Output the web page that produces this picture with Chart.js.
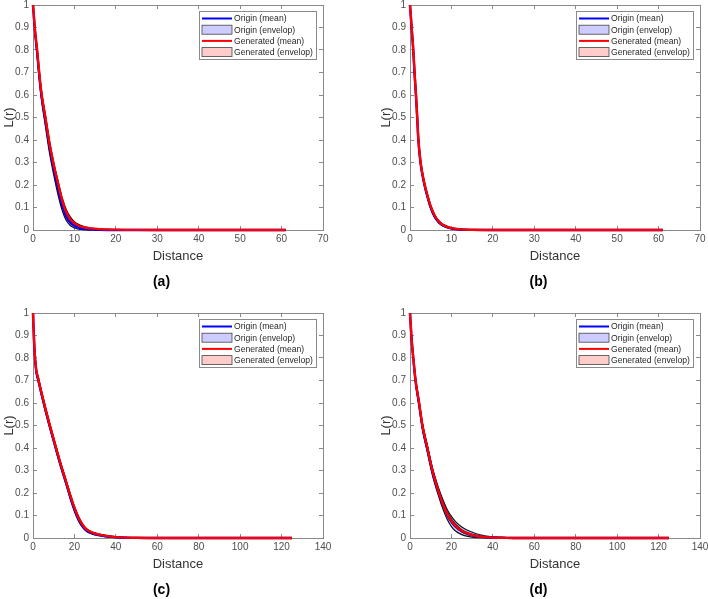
<!DOCTYPE html>
<html lang="en">
<head>
  <meta charset="UTF-8">
  <title>L(r) - Origin vs Generated</title>
  <style>
    html, body {
      margin: 0;
      padding: 0;
      background: #fff;
    }
    #wrap {
      position: relative;
      width: 708px;
      height: 599px;
      overflow: hidden;
    }
    #wrap canvas {
      position: absolute;
    }
  </style>
</head>
<body>

  <div id="wrap">
    <canvas id="chartA" width="354" height="300" style="left:0;top:0"></canvas>
    <canvas id="chartB" width="354" height="300" style="left:377px;top:0"></canvas>
    <canvas id="chartC" width="354" height="300" style="left:0;top:308px"></canvas>
    <canvas id="chartD" width="354" height="300" style="left:377px;top:308px"></canvas>
  </div>

  <script src="https://cdn.jsdelivr.net/npm/chart.js"></script>

  <script>
    // panel (a)
    const aDist        = [0, 0.5, 1, 1.5, 2, 3, 4, 5, 6, 7, 8, 9, 10, 11, 12, 14, 16, 20, 25, 30, 40, 50, 61];
    const aOriginMean  = [1, 0.88, 0.79, 0.69, 0.605, 0.49, 0.37, 0.275, 0.19, 0.115, 0.062, 0.034, 0.019, 0.011, 0.006, 0.003, 0.001, 0, 0, 0, 0, 0, 0];
    const aOriginLow   = [1, 0.87, 0.77, 0.67, 0.585, 0.46, 0.34, 0.245, 0.16, 0.09, 0.043, 0.02, 0.009, 0.004, 0.002, 0, 0, 0, 0, 0, 0, 0, 0];
    const aOriginHigh  = [1, 0.885, 0.8, 0.7, 0.612, 0.5, 0.382, 0.288, 0.203, 0.13, 0.076, 0.045, 0.028, 0.018, 0.011, 0.005, 0.002, 0.0005, 0, 0, 0, 0, 0];
    const aGenMean     = [1, 0.885, 0.8, 0.7, 0.615, 0.5, 0.383, 0.29, 0.21, 0.135, 0.08, 0.048, 0.03, 0.02, 0.013, 0.007, 0.004, 0.0015, 0.0005, 0, 0, 0, 0];
    const aGenLow      = [1, 0.875, 0.78, 0.68, 0.595, 0.475, 0.355, 0.26, 0.175, 0.105, 0.056, 0.03, 0.017, 0.01, 0.006, 0.002, 0.001, 0, 0, 0, 0, 0, 0];
    const aGenHigh     = [1, 0.89, 0.805, 0.71, 0.625, 0.51, 0.395, 0.302, 0.222, 0.147, 0.092, 0.058, 0.037, 0.025, 0.017, 0.009, 0.005, 0.002, 0.0007, 0, 0, 0, 0];

    // panel (b)
    const bDist        = [0, 0.4, 0.8, 1.1, 1.45, 1.75, 2, 2.5, 3, 3.5, 4, 5, 6, 7, 8, 10, 12, 15, 20, 30, 40, 50, 61];
    const bOriginMean  = [1, 0.895, 0.795, 0.695, 0.595, 0.495, 0.405, 0.305, 0.245, 0.2, 0.163, 0.1, 0.058, 0.034, 0.02, 0.007, 0.002, 0.0005, 0, 0, 0, 0, 0];
    const bOriginLow   = [1, 0.888, 0.787, 0.686, 0.586, 0.487, 0.397, 0.297, 0.238, 0.193, 0.156, 0.094, 0.053, 0.03, 0.017, 0.005, 0.001, 0, 0, 0, 0, 0, 0];
    const bOriginHigh  = [1, 0.902, 0.803, 0.704, 0.604, 0.503, 0.413, 0.313, 0.252, 0.207, 0.17, 0.106, 0.063, 0.038, 0.023, 0.009, 0.003, 0.001, 0, 0, 0, 0, 0];
    const bGenMean     = [1, 0.9, 0.8, 0.7, 0.6, 0.5, 0.41, 0.31, 0.25, 0.205, 0.168, 0.105, 0.062, 0.037, 0.022, 0.008, 0.003, 0.001, 0, 0, 0, 0, 0];
    const bGenLow      = [1, 0.893, 0.792, 0.692, 0.592, 0.492, 0.402, 0.302, 0.243, 0.198, 0.161, 0.099, 0.057, 0.033, 0.019, 0.006, 0.002, 0.0005, 0, 0, 0, 0, 0];
    const bGenHigh     = [1, 0.906, 0.807, 0.708, 0.608, 0.508, 0.418, 0.318, 0.257, 0.212, 0.175, 0.111, 0.067, 0.041, 0.025, 0.01, 0.004, 0.0015, 0, 0, 0, 0, 0];

    // panel (c)
    const cDist        = [0, 0.5, 1, 1.6, 2.5, 4, 6, 8, 11, 13, 16, 18, 20, 22, 24, 26, 29, 32, 35, 38, 42, 50, 60, 80, 100, 125];
    const cOriginMean  = [1, 0.875, 0.795, 0.74, 0.705, 0.645, 0.57, 0.5, 0.4, 0.335, 0.245, 0.183, 0.127, 0.083, 0.052, 0.033, 0.02, 0.013, 0.008, 0.005, 0.002, 0.0005, 0, 0, 0, 0];
    const cOriginLow   = [1, 0.865, 0.785, 0.73, 0.695, 0.635, 0.56, 0.49, 0.39, 0.325, 0.235, 0.173, 0.118, 0.075, 0.046, 0.028, 0.016, 0.01, 0.006, 0.003, 0.001, 0, 0, 0, 0, 0];
    const cOriginHigh  = [1, 0.885, 0.805, 0.75, 0.715, 0.655, 0.58, 0.51, 0.41, 0.345, 0.255, 0.193, 0.137, 0.092, 0.059, 0.038, 0.024, 0.016, 0.011, 0.007, 0.004, 0.0015, 0, 0, 0, 0];
    const cGenMean     = [1, 0.88, 0.8, 0.745, 0.71, 0.65, 0.575, 0.505, 0.405, 0.34, 0.25, 0.19, 0.135, 0.09, 0.058, 0.037, 0.023, 0.015, 0.01, 0.006, 0.003, 0.001, 0, 0, 0, 0];
    const cGenLow      = [1, 0.875, 0.795, 0.74, 0.705, 0.645, 0.57, 0.5, 0.4, 0.335, 0.245, 0.185, 0.13, 0.086, 0.055, 0.035, 0.021, 0.013, 0.009, 0.005, 0.002, 0.0005, 0, 0, 0, 0];
    const cGenHigh     = [1, 0.886, 0.806, 0.751, 0.716, 0.656, 0.581, 0.511, 0.411, 0.346, 0.256, 0.196, 0.141, 0.095, 0.062, 0.04, 0.025, 0.017, 0.012, 0.007, 0.004, 0.0015, 0, 0, 0, 0];

    // panel (d)
    const dDist        = [0, 0.65, 1.6, 2.7, 4.4, 6, 8.4, 10.8, 14, 16, 18, 20, 22, 25, 28, 32, 36, 40, 45, 50, 60, 80, 100, 125];
    const dOriginMean  = [1, 0.898, 0.797, 0.696, 0.595, 0.495, 0.395, 0.296, 0.198, 0.146, 0.104, 0.074, 0.052, 0.031, 0.018, 0.008, 0.004, 0.002, 0.001, 0, 0, 0, 0, 0];
    const dOriginLow   = [1, 0.893, 0.79, 0.687, 0.584, 0.482, 0.38, 0.28, 0.18, 0.126, 0.082, 0.051, 0.031, 0.015, 0.007, 0.002, 0.001, 0, 0, 0, 0, 0, 0, 0];
    const dOriginHigh  = [1, 0.904, 0.806, 0.707, 0.608, 0.509, 0.41, 0.313, 0.217, 0.168, 0.126, 0.096, 0.073, 0.049, 0.033, 0.019, 0.01, 0.005, 0.002, 0, 0, 0, 0, 0];
    const dGenMean     = [1, 0.9, 0.8, 0.7, 0.6, 0.5, 0.4, 0.3, 0.2, 0.148, 0.106, 0.076, 0.054, 0.032, 0.019, 0.009, 0.004, 0.002, 0.001, 0, 0, 0, 0, 0];
    const dGenLow      = [1, 0.896, 0.794, 0.692, 0.591, 0.49, 0.389, 0.289, 0.19, 0.139, 0.097, 0.068, 0.047, 0.027, 0.015, 0.006, 0.002, 0.001, 0, 0, 0, 0, 0, 0];
    const dGenHigh     = [1, 0.904, 0.805, 0.707, 0.608, 0.509, 0.41, 0.311, 0.21, 0.157, 0.115, 0.084, 0.061, 0.037, 0.023, 0.012, 0.006, 0.003, 0.0015, 0, 0, 0, 0, 0];

    const FONT = "'Liberation Sans', Arial, sans-serif";
    const AXIS_GRAY = '#8a8a8a';
    const TICK_TEXT = '#4d4d4d';

    Chart.defaults.font.family = FONT;

    // MATLAB-like legend: framed box in the upper right of the plot area
    const boxLegend = {
      id: 'boxLegend',
      afterDraw(chart) {
        const { ctx, chartArea } = chart;
        const items = chart.data.datasets
          .filter(d => d.legendKind)
          .sort((p, q) => p.legendRank - q.legendRank);
        const w = 117, h = 48;
        const left = chartArea.right - 7 - w;
        const top = chartArea.top + 6;

        ctx.save();
        ctx.fillStyle = '#fff';
        ctx.fillRect(left, top, w, h);
        ctx.strokeStyle = '#8a8a8a';
        ctx.lineWidth = 1;
        ctx.strokeRect(left + 0.5, top + 0.5, w, h);

        ctx.font = '8.6px ' + FONT;
        ctx.textBaseline = 'middle';
        ctx.textAlign = 'left';
        items.forEach((d, i) => {
          const y = top + 7.5 + i * 11.2;
          if (d.legendKind === 'line') {
            ctx.strokeStyle = d.borderColor;
            ctx.lineWidth = 2;
            ctx.beginPath();
            ctx.moveTo(left + 3, y);
            ctx.lineTo(left + 33, y);
            ctx.stroke();
          } else {
            ctx.fillStyle = d.backgroundColor;
            ctx.fillRect(left + 3, y - 4.5, 30, 9);
            ctx.strokeStyle = '#444';
            ctx.lineWidth = 0.8;
            ctx.strokeRect(left + 3, y - 4.5, 30, 9);
          }
          ctx.fillStyle = '#262626';
          ctx.fillText(d.label, left + 35, y + 0.5);
        });
        ctx.restore();
      }
    };

    function panelDatasets(dist, oMean, oLow, oHigh, gMean, gLow, gHigh) {
      const pts = v => dist.map((x, i) => ({ x: x, y: v[i] }));
      const edge = { borderColor: '#111', borderWidth: 1.2 };
      // first dataset is painted last (on top)
      return [
        { label: 'Generated (mean)', data: pts(gMean), borderColor: '#ff0000', borderWidth: 2.4,
          legendKind: 'line', legendRank: 2 },
        { label: 'Origin (mean)', data: pts(oMean), borderColor: '#0000ff', borderWidth: 2.4,
          legendKind: 'line', legendRank: 0 },
        { label: 'Generated (envelop)', data: pts(gHigh), ...edge, fill: 3,
          backgroundColor: 'rgba(255,0,0,0.2)', legendKind: 'box', legendRank: 3 },
        { label: '', data: pts(gLow), ...edge, fill: false },
        { label: 'Origin (envelop)', data: pts(oHigh), ...edge, fill: 5,
          backgroundColor: 'rgba(0,0,255,0.2)', legendKind: 'box', legendRank: 1 },
        { label: '', data: pts(oLow), ...edge, fill: false }
      ];
    }

    function makeScales(xMax, xStep) {
      const tickFont = { size: 10, family: FONT, lineHeight: 1 };
      const grid = { drawOnChartArea: false, tickLength: -4, color: AXIS_GRAY };
      const border = { color: AXIS_GRAY, width: 1 };
      return {
        x: {
          type: 'linear', position: 'bottom', min: 0, max: xMax,
          ticks: { stepSize: xStep, color: TICK_TEXT, font: tickFont, padding: 8, maxRotation: 0, autoSkip: false },
          grid: grid, border: border,
          title: { display: true, text: 'Distance', color: '#333', font: { size: 13, family: FONT },
                   padding: { top: 0, bottom: 9 } },
          afterFit: s => { s.height = 43.6; }
        },
        x2: {
          type: 'linear', position: 'top', min: 0, max: xMax,
          ticks: { stepSize: xStep, display: false },
          grid: grid, border: border,
          afterFit: s => { s.height = 0; }
        },
        y: {
          type: 'linear', position: 'left', min: 0, max: 1,
          ticks: {
            stepSize: 0.1, color: TICK_TEXT, font: tickFont, padding: 8,
            callback: v => String(Number(v.toFixed(2)))
          },
          grid: grid, border: border,
          title: { display: true, text: 'L(r)', color: '#333', font: { size: 13, family: FONT },
                   padding: { top: 2, bottom: 0 } },
          afterFit: s => { s.width = 33; s.paddingTop = 0; s.paddingBottom = 0; }
        },
        y2: {
          type: 'linear', position: 'right', min: 0, max: 1,
          ticks: { stepSize: 0.1, display: false },
          grid: grid, border: border,
          afterFit: s => { s.width = 0; }
        }
      };
    }

    function drawPanel(id, tag, xMax, xStep, datasets) {
      const ctx = document.getElementById(id).getContext('2d');
      return new Chart(ctx, {
        type: 'line',
        data: { datasets: datasets },
        options: {
          responsive: false,
          animation: false,
          clip: 3,
          layout: { padding: { left: 0, right: 31, top: 5, bottom: 0 } },
          elements: {
            point: { radius: 0 },
            line: { cubicInterpolationMode: 'monotone' }
          },
          scales: makeScales(xMax, xStep),
          plugins: {
            legend: { display: false },
            tooltip: { enabled: false },
            title: {
              display: true, position: 'bottom', text: tag, color: '#000',
              font: { size: 14, weight: 'bold', family: FONT },
              padding: { top: 0, bottom: 9.6 }
            }
          }
        },
        plugins: [boxLegend]
      });
    }

    drawPanel('chartA', '(a)', 70, 10,
      panelDatasets(aDist, aOriginMean, aOriginLow, aOriginHigh, aGenMean, aGenLow, aGenHigh));
    drawPanel('chartB', '(b)', 70, 10,
      panelDatasets(bDist, bOriginMean, bOriginLow, bOriginHigh, bGenMean, bGenLow, bGenHigh));
    drawPanel('chartC', '(c)', 140, 20,
      panelDatasets(cDist, cOriginMean, cOriginLow, cOriginHigh, cGenMean, cGenLow, cGenHigh));
    drawPanel('chartD', '(d)', 140, 20,
      panelDatasets(dDist, dOriginMean, dOriginLow, dOriginHigh, dGenMean, dGenLow, dGenHigh));
  </script>

</body>
</html>
